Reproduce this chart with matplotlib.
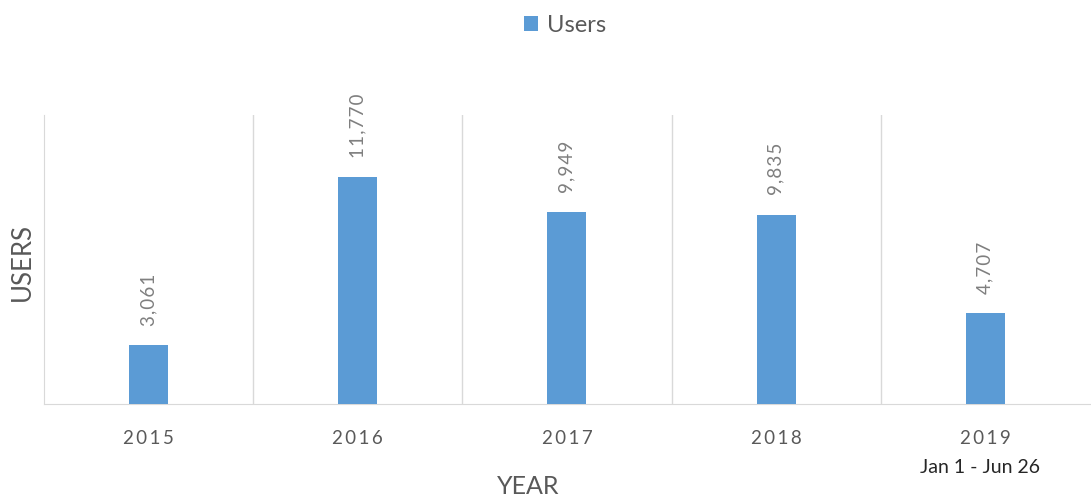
import matplotlib.pyplot as plt

# yearly users
years = ["2015", "2016", "2017", "2018", "2019"]
users = [3061, 11770, 9949, 9835, 4707]
partial_note = "Jan 1 - Jun 26"

plt.rcParams['font.family'] = ['Lato', 'DejaVu Sans']

bar_color = "#5B9BD5"
grid_color = "#D9D9D9"
text_grey = "#595959"

fig = plt.figure(figsize=(10.91, 4.99), dpi=100)
ax = fig.add_axes([0.0403, 0.1904, 0.9587, 0.5791])

x = list(range(len(years)))
ax.bar(x, users, width=0.187, color=bar_color, label="Users", zorder=3)

ax.set_xlim(-0.5, len(years) - 0.5)
ax.set_ylim(0, 15000)

# value labels, rotated above each bar
for xi, v in zip(x, users):
    ax.annotate("\u200a".join(f"{v:,}"), (xi, v), xytext=(0, 14),
                textcoords="offset points", rotation=90, ha="center",
                va="bottom", fontsize=13.5, color="#7F7F7F")

# category separators
for b in [i + 0.5 for i in x[:-1]]:
    ax.axvline(b, color=grid_color, linewidth=1, zorder=1)

for side in ["top", "right"]:
    ax.spines[side].set_visible(False)
ax.spines["left"].set_color(grid_color)
ax.spines["bottom"].set_color(grid_color)

ax.set_yticks([])
ax.set_xticks(x)
ax.set_xticklabels(["\u2009".join(y) for y in years], fontsize=13.5, color=text_grey)
ax.tick_params(axis="x", length=0, pad=19)

# note under the last (partial) year
ax.annotate(partial_note, (x[-1], 0), xytext=(-4, -46), textcoords="offset points",
            ha="center", va="center", fontsize=14, color="#262626",
            annotation_clip=False)

fig.text(0.484, 1 - 487 / 499, "YEAR", ha="center", va="center",
         fontsize=18, color=text_grey)
fig.text(0.0205, 1 - 262 / 499, "USERS", ha="center", va="center",
         rotation=90, fontsize=18.5, color=text_grey)

fig.legend(loc="center", bbox_to_anchor=(0.518, 1 - 25 / 499), frameon=False,
           fontsize=17, handlelength=0.6, handleheight=0.6, handletextpad=0.4,
           labelcolor=text_grey)

fig.savefig("out.png", dpi=100)
